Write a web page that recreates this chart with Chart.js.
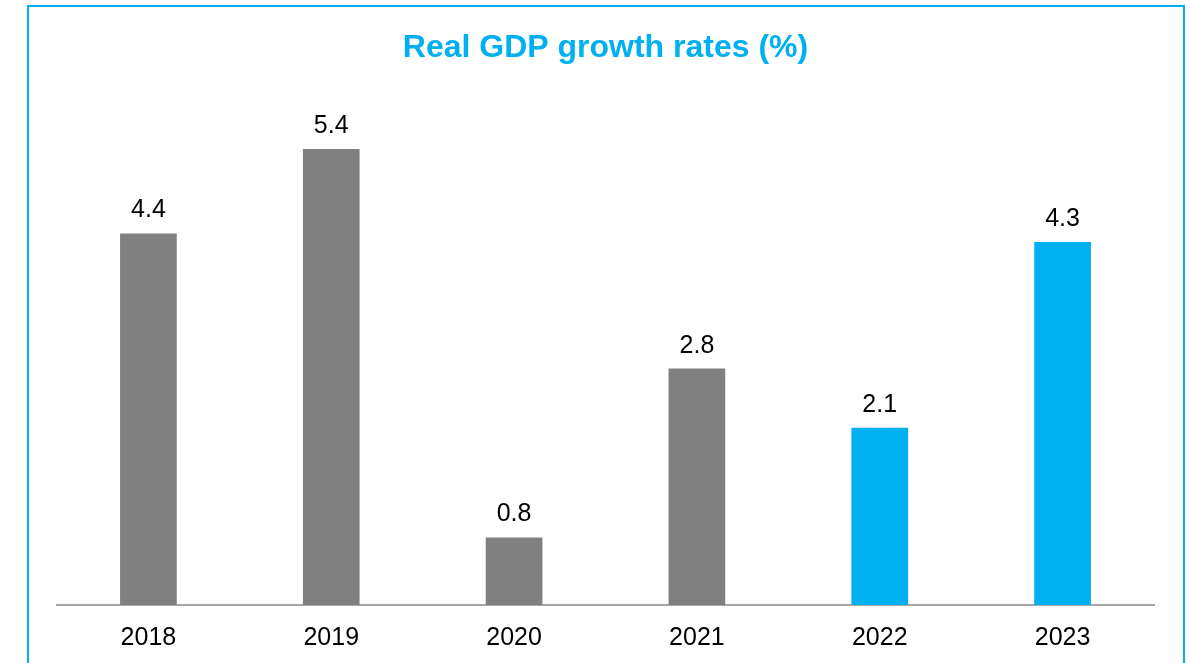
<!DOCTYPE html>
<html>
<head>
<meta charset="utf-8">
<script src="https://cdn.jsdelivr.net/npm/chart.js@4"></script>
<style>
	html, body { margin: 0; padding: 0; background: #fff; overflow: hidden; }
	#wrap { position: absolute; left: 0; top: 0; width: 1190px; height: 663px; }
	#frame {
		position: absolute; left: 27px; top: 5px; width: 1154px; height: 700px;
		border: 2px solid #00b0f0; border-bottom: none; pointer-events: none;
	}
</style>
</head>
<body>
<div id="wrap"><canvas id="gdp"></canvas></div>
<div id="frame"></div>
<script>
// Chart data
const years = ['2018', '2019', '2020', '2021', '2022', '2023'];
const growth = [4.4, 5.4, 0.8, 2.8, 2.1, 4.3];
const barColors = ['#808080', '#808080', '#808080', '#808080', '#00b0f0', '#00b0f0'];

const FONT = '"Liberation Sans", Arial, sans-serif';

// Write the value above each bar
const valueLabels = {
	id: 'valueLabels',
	afterDatasetsDraw(chart) {
		const ctx = chart.ctx;
		const meta = chart.getDatasetMeta(0);
		ctx.save();
		ctx.font = '25px ' + FONT;
		ctx.fillStyle = '#000';
		ctx.textAlign = 'center';
		ctx.textBaseline = 'alphabetic';
		meta.data.forEach((bar, i) => {
			ctx.fillText(growth[i].toFixed(1), bar.x, bar.y - 16);
		});
		ctx.restore();
	},
};

let ctxGdp = document.getElementById('gdp').getContext('2d');
let gdpChart = new Chart(ctxGdp, {
	type: 'bar',
	data: {
		labels: years,
		datasets: [
			{
				label: 'Real GDP growth',
				backgroundColor: barColors,
				data: growth,
				categoryPercentage: 1,
				barPercentage: 0.31,
			},
		],
	},
	options: {
		responsive: true,
		maintainAspectRatio: false,
		animation: false,
		layout: {
			padding: { left: 57, right: 36, top: 0, bottom: 0 },
		},
		plugins: {
			legend: { display: false },
			tooltip: { enabled: false },
			title: {
				display: true,
				text: 'Real GDP growth rates (%)',
				color: '#00b0f0',
				font: { family: FONT, size: 32, weight: 'bold' },
				padding: { top: 29, bottom: 31 },
			},
		},
		scales: {
			x: {
				grid: { display: false, drawTicks: false },
				border: { display: true, color: '#a6a6a6', width: 2 },
				ticks: {
					color: '#000',
					padding: 18,
					font: { family: FONT, size: 25 },
				},
				// keep the baseline where the year labels sit below it
				afterFit(scale) {
					scale.height = 58;
				},
			},
			y: {
				display: false,
				min: 0,
				max: 6,
			},
		},
	},
	plugins: [valueLabels],
});
</script>
</body>
</html>
